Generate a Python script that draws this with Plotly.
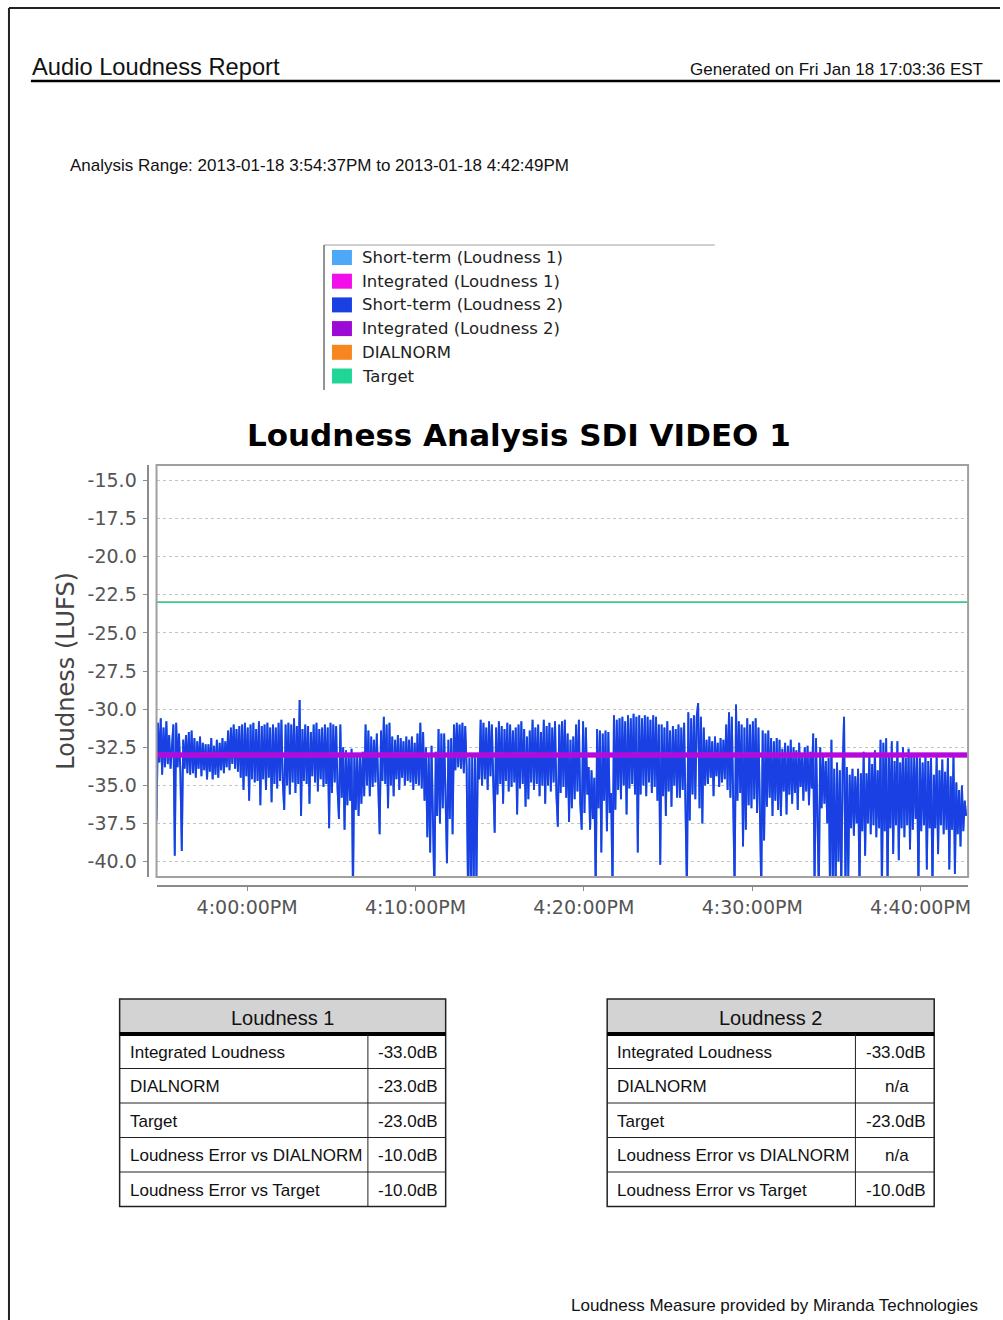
"""
Audio Loudness Report - recriação em Plotly.
"""
import pandas as pd
import plotly.graph_objects as go

W, H = 1003, 1320

# Janela de análise
start_time = '2013-01-18 15:54:37'
end_time = '2013-01-18 16:42:49'
sample_step_s = 5

# Short-term loudness (LUFS), uma amostra a cada 5 s, uma linha por minuto
short_term = [
    -37.3, -30.9, -33.5, -30.6, -34.3, -31.2, -33.8, -30.8, -33.6, -31.7, -33.9, -32.0,
    -31.0, -39.6, -30.9, -33.8, -31.6, -34.1, -39.3, -32.0, -33.9, -31.7, -34.2, -31.5,
    -34.3, -31.4, -34.2, -31.9, -34.5, -32.1, -33.9, -31.8, -34.4, -32.2, -34.0, -32.3,
    -34.6, -32.3, -34.1, -31.9, -34.6, -32.4, -34.3, -32.0, -34.5, -32.2, -34.0, -31.9,
    -34.2, -32.1, -33.8, -31.4, -34.0, -31.2, -33.6, -31.0, -33.9, -31.3, -34.1, -31.1,
    -34.5, -31.0, -35.3, -30.9, -34.4, -31.2, -36.0, -31.0, -34.6, -30.9, -34.8, -31.3,
    -34.7, -30.8, -36.3, -31.1, -34.6, -31.0, -35.3, -30.9, -34.5, -31.2, -36.1, -31.0,
    -34.9, -31.2, -35.2, -30.9, -34.7, -30.7, -34.8, -36.6, -31.0, -35.0, -30.9, -35.6,
    -31.0, -34.8, -30.6, -35.5, -31.1, -34.9, -29.4, -37.0, -31.3, -34.7, -31.0, -34.9,
    -31.1, -36.2, -31.5, -34.4, -31.0, -34.8, -30.9, -35.4, -31.3, -34.6, -31.2, -35.1,
    -31.0, -34.9, -31.2, -37.8, -30.9, -35.5, -31.0, -34.8, -31.1, -35.2, -37.2, -31.0,
    -35.8, -32.5, -37.9, -32.7, -36.3, -32.9, -36.0, -32.6, -42.0, -32.9, -36.6, -33.0,
    -37.0, -33.1, -36.2, -32.8, -35.7, -31.0, -35.0, -31.4, -35.7, -31.8, -35.1, -32.0,
    -34.8, -31.6, -35.0, -38.2, -31.4, -34.7, -30.5, -34.9, -31.0, -36.5, -30.9, -35.0,
    -31.8, -35.7, -32.0, -34.6, -31.7, -35.3, -31.9, -34.5, -32.1, -35.0, -31.8, -34.7,
    -32.0, -34.8, -31.8, -35.3, -32.2, -34.9, -31.6, -35.0, -30.9, -35.2, -31.5, -36.0,
    -32.5, -38.4, -33.0, -39.4, -32.4, -37.8, -42.0, -32.8, -37.0, -31.3, -37.5, -31.6,
    -36.5, -31.6, -36.9, -40.1, -32.0, -37.2, -31.9, -38.2, -31.0, -34.0, -30.9, -33.8,
    -31.0, -33.9, -30.9, -34.2, -31.1, -33.8, -42.0, -33.2, -42.0, -33.1, -42.0, -33.0,
    -41.5, -33.0, -34.6, -30.7, -35.0, -30.9, -34.6, -31.2, -35.3, -30.8, -34.4, -31.0,
    -34.8, -38.1, -31.2, -35.6, -30.8, -34.9, -31.1, -36.2, -31.3, -34.7, -30.9, -35.4,
    -31.0, -35.1, -31.4, -34.8, -31.2, -36.9, -31.0, -35.2, -30.8, -34.9, -31.3, -36.4,
    -31.8, -35.9, -31.4, -34.8, -30.7, -35.3, -31.2, -34.9, -31.0, -35.7, -31.5, -35.0,
    -30.7, -36.2, -31.1, -35.0, -30.9, -35.4, -31.2, -34.8, -30.8, -35.6, -37.7, -31.0,
    -35.5, -30.8, -35.1, -30.7, -35.8, -31.6, -37.4, -32.0, -36.5, -31.8, -35.9, -31.0,
    -35.4, -30.7, -36.2, -37.9, -30.8, -36.8, -31.2, -35.6, -33.8, -37.9, -34.0, -37.2,
    -34.5, -42.0, -31.3, -36.5, -31.4, -39.4, -31.6, -36.0, -31.4, -38.0, -31.5, -36.8,
    -35.5, -42.0, -30.4, -36.6, -30.7, -35.3, -30.6, -35.9, -30.5, -35.0, -30.8, -36.9,
    -30.4, -35.2, -30.6, -34.9, -30.3, -35.6, -30.5, -39.4, -30.4, -35.6, -30.6, -35.0,
    -30.4, -35.7, -30.5, -34.8, -30.7, -35.5, -30.4, -35.1, -30.5, -36.0, -31.0, -40.2,
    -31.0, -35.7, -31.2, -37.0, -30.8, -35.4, -31.4, -36.4, -31.1, -35.0, -31.3, -35.8,
    -31.0, -35.8, -31.2, -35.3, -30.9, -36.1, -42.0, -30.2, -37.3, -30.6, -35.6, -30.4,
    -35.9, -30.5, -29.6, -36.5, -30.5, -37.5, -31.2, -35.0, -32.0, -34.9, -31.8, -34.5,
    -32.1, -35.7, -31.8, -34.4, -32.2, -35.1, -31.9, -34.8, -32.0, -34.6, -31.0, -35.3,
    -30.2, -35.8, -30.5, -36.0, -42.0, -29.7, -36.0, -30.8, -35.5, -31.0, -39.0, -31.2,
    -37.9, -30.6, -36.3, -31.0, -36.5, -30.8, -35.9, -30.6, -36.8, -31.2, -37.0, -42.0,
    -31.4, -38.6, -31.6, -36.4, -31.4, -35.8, -31.9, -37.0, -32.1, -36.0, -31.9, -36.6,
    -32.0, -37.0, -32.6, -35.4, -32.2, -36.9, -32.4, -35.6, -32.0, -36.2, -32.5, -35.5,
    -32.7, -36.6, -32.2, -35.1, -33.1, -36.0, -32.5, -35.4, -32.4, -36.3, -32.8, -35.2,
    -31.6, -42.0, -31.9, -36.0, -42.0, -32.5, -36.5, -33.1, -36.2, -33.4, -37.5, -33.2,
    -42.0, -32.0, -41.5, -33.9, -42.0, -33.5, -40.0, -34.0, -42.0, -33.8, -30.5, -42.0,
    -33.8, -41.0, -34.3, -37.8, -33.9, -38.3, -34.4, -37.5, -33.9, -42.0, -34.2, -38.0,
    -32.8, -39.6, -34.2, -37.5, -33.0, -38.2, -33.6, -37.6, -32.7, -38.4, -34.0, -37.8,
    -32.0, -42.0, -32.2, -38.0, -31.9, -42.0, -33.0, -37.8, -32.1, -39.5, -33.4, -37.6,
    -32.1, -39.9, -33.5, -37.8, -32.5, -38.4, -33.2, -37.6, -32.6, -39.2, -33.0, -37.9,
    -33.1, -37.2, -33.0, -42.0, -33.2, -38.0, -33.5, -37.6, -33.1, -40.5, -33.4, -37.8,
    -33.2, -42.0, -34.3, -37.8, -33.1, -39.5, -34.0, -37.6, -33.3, -38.2, -34.1, -37.9,
    -33.2, -40.5, -34.4, -37.9, -33.0, -40.8, -34.8, -38.2, -35.3, -39.0, -35.0, -38.0,
    -36.0, -37.0,
]

# Linhas horizontais (início / fim da janela)
integrated_l1 = [-33.0, -33.0]
integrated_l2 = [-33.0, -33.0]
dialnorm_l1 = [-23.0, -23.0]
target_level = [-23.0, -23.0]

y_ticks = [-15.0, -17.5, -20.0, -22.5, -25.0, -27.5, -30.0, -32.5, -35.0, -37.5, -40.0]

legend_names = ['Short-term (Loudness 1)', 'Integrated (Loudness 1)',
                'Short-term (Loudness 2)', 'Integrated (Loudness 2)',
                'DIALNORM', 'Target']
legend_colors = ['#4DA9F7', '#F20DEB', '#1A3FE3', '#9C0AD6', '#F7861F', '#1FD696']

# Tabelas
table_rows = ['Integrated Loudness', 'DIALNORM', 'Target',
              'Loudness Error vs DIALNORM', 'Loudness Error vs Target']
loudness1_values = ['-33.0dB', '-23.0dB', '-23.0dB', '-10.0dB', '-10.0dB']
loudness2_values = ['-33.0dB', 'n/a', '-23.0dB', 'n/a', '-10.0dB']


def px(x):
    return x / W


def py(y):
    return 1 - y / H


times = pd.date_range(start_time, periods=len(short_term), freq=f'{sample_step_s}s')
span = [pd.Timestamp(start_time), pd.Timestamp(end_time)]

fig = go.Figure()

# Ordem de desenho: L1 por baixo, L2 por cima
fig.add_trace(go.Scatter(x=times, y=short_term, mode='lines',
                         line=dict(color=legend_colors[0], width=1.9)))
fig.add_trace(go.Scatter(x=times, y=short_term, mode='lines',
                         line=dict(color=legend_colors[2], width=1.9)))
fig.add_trace(go.Scatter(x=span, y=dialnorm_l1, mode='lines',
                         line=dict(color=legend_colors[4], width=1.5)))
fig.add_trace(go.Scatter(x=span, y=target_level, mode='lines',
                         line=dict(color=legend_colors[5], width=1.5)))
fig.add_trace(go.Scatter(x=span, y=integrated_l1, mode='lines',
                         line=dict(color=legend_colors[1], width=5)))
fig.add_trace(go.Scatter(x=span, y=integrated_l2, mode='lines', opacity=0.75,
                         line=dict(color=legend_colors[3], width=5)))

shapes = []
annotations = []


def hline(x0, x1, y, color='black', width=1):
    shapes.append(dict(type='line', xref='paper', yref='paper',
                       x0=px(x0), x1=px(x1), y0=py(y), y1=py(y),
                       line=dict(color=color, width=width)))


def vline(x, y0, y1, color='black', width=1):
    shapes.append(dict(type='line', xref='paper', yref='paper',
                       x0=px(x), x1=px(x), y0=py(y0), y1=py(y1),
                       line=dict(color=color, width=width)))


def text(s, x, y, size=17, color='#111111', xanchor='left', font='Liberation Sans', **kw):
    annotations.append(dict(text=s, x=px(x), y=py(y), xref='paper', yref='paper',
                            xanchor=xanchor, yanchor='middle', showarrow=False,
                            font=dict(family=font, size=size, color=color), **kw))


# Borda da página e cabeçalho
hline(9, 1003, 8, '#222222', 2)
vline(9, 8, 1320, '#222222', 2)
text('Audio Loudness Report', 30, 67, size=23.7)
text('Generated on Fri Jan 18 17:03:36 EST', 988, 70, size=17, xanchor='right')
hline(31, 1003, 81, 'black', 2.5)
text('Analysis Range: 2013-01-18 3:54:37PM to 2013-01-18 4:42:49PM', 68, 166, size=17)

# Legenda
hline(325, 717, 245, '#A0A0A0', 1)
vline(325, 245, 390, '#707070', 1.5)
for i, (name, color) in enumerate(zip(legend_names, legend_colors)):
    yc = 257.5 + i * 23.7
    shapes.append(dict(type='rect', xref='paper', yref='paper',
                       x0=px(333), x1=px(353), y0=py(yc - 7.5), y1=py(yc + 7.5),
                       fillcolor=color, line=dict(width=0)))
    text(name, 361, yc, size=16.5, color='#222222', font='DejaVu Sans')

# Título e eixo Y
text('<b>Loudness Analysis SDI VIDEO 1</b>', 521, 435, size=31, color='black',
     xanchor='center', font='DejaVu Sans')
text('Loudness (LUFS)', 66, 671, size=24, color='#444444', xanchor='center',
     font='DejaVu Sans', textangle=-90)

# Moldura da área de plotagem
shapes.append(dict(type='rect', xref='x domain', yref='y domain', x0=0, x1=1, y0=0, y1=1,
                   line=dict(color='#A0A0A0', width=2), layer='above'))


def add_table(left, right, divider, title, values):
    top, head_bottom, row_h = 999, 1034, 34.5
    bottom = head_bottom + row_h * len(table_rows)
    shapes.append(dict(type='rect', xref='paper', yref='paper',
                       x0=px(left), x1=px(right), y0=py(top), y1=py(head_bottom),
                       fillcolor='#D3D3D3', line=dict(width=0), layer='below'))
    shapes.append(dict(type='rect', xref='paper', yref='paper',
                       x0=px(left), x1=px(right), y0=py(top), y1=py(bottom),
                       line=dict(color='#222222', width=1.5)))
    hline(left, right, head_bottom, 'black', 4)
    for i in range(1, len(table_rows)):
        hline(left, right, head_bottom + i * row_h, '#222222', 1)
    vline(divider, head_bottom, bottom, '#222222', 1)
    text(title, (left + right) / 2, (top + head_bottom) / 2 + 1, size=20, xanchor='center')
    for i, (label, val) in enumerate(zip(table_rows, values)):
        yc = head_bottom + (i + 0.5) * row_h + 1
        text(label, left + 8, yc)
        if val == 'n/a':
            text(val, (divider + right) / 2 + 2, yc, xanchor='center')
        else:
            text(val, right - 6, yc, xanchor='right')


add_table(120, 447, 369, 'Loudness 1', loudness1_values)
add_table(609, 937, 858, 'Loudness 2', loudness2_values)

text('Loudness Measure provided by Miranda Technologies', 983, 1305, xanchor='right')

tick_font = dict(family='DejaVu Sans', size=19, color='#555555')

fig.update_layout(
    width=W, height=H, autosize=False,
    margin=dict(l=0, r=0, t=0, b=0),
    paper_bgcolor='white', plot_bgcolor='white',
    showlegend=False,
    shapes=shapes, annotations=annotations,
    xaxis=dict(
        domain=[px(157), px(971)], anchor='free', position=1 - 886 / H,
        type='date', range=span,
        tick0='2013-01-18 16:00:00', dtick=600000, tickformat='%-I:%M:%S%p',
        showline=True, linecolor='#8C8C8C', linewidth=2,
        ticks='outside', ticklen=4, tickcolor='#8C8C8C',
        showgrid=False, zeroline=False, tickfont=tick_font,
    ),
    yaxis=dict(
        domain=[py(877), py(465)], anchor='free', position=px(148),
        range=[-41, -14], tickmode='array', tickvals=y_ticks,
        ticktext=[f'{v:.1f}' for v in y_ticks],
        showline=True, linecolor='#8C8C8C', linewidth=2,
        ticks='outside', ticklen=4, tickcolor='#8C8C8C', ticklabelstandoff=2,
        showgrid=True, gridcolor='#C4C4C4', griddash='3px,3px', gridwidth=1,
        zeroline=False, tickfont=tick_font,
    ),
)

fig.write_html(
    "out.html",
    config={'displayModeBar': False},
    post_script="document.documentElement.style.margin='0';"
                "document.documentElement.style.overflow='hidden';"
                "document.body.style.margin='0';"
                "document.body.style.overflow='hidden';",
)
